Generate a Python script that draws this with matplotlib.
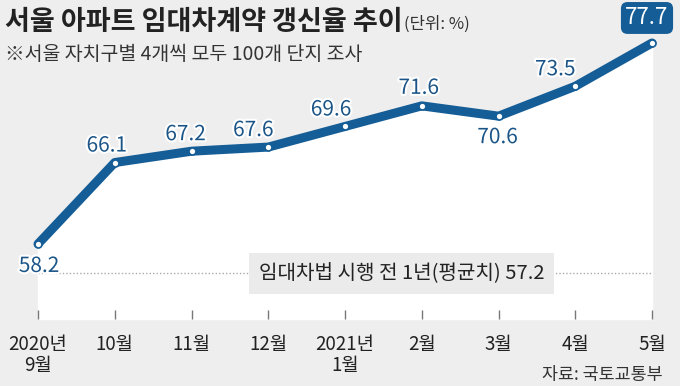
import matplotlib.pyplot as plt
import matplotlib.patheffects as pe
from matplotlib.transforms import offset_copy

plt.rcParams['font.family'] = ['Noto Sans CJK KR', 'DejaVu Sans']

months = ["2020년\n9월", "10월", "11월", "12월", "2021년\n1월", "2월", "3월", "4월", "5월"]
rates = [58.2, 66.1, 67.2, 67.6, 69.6, 71.6, 70.6, 73.5, 77.7]
avg_before = 57.2

title = "서울 아파트 임대차계약 갱신율 추이"
unit = "(단위: %)"
note = "※서울 자치구별 4개씩 모두 100개 단지 조사"
avg_text = "임대차법 시행 전 1년(평균치)"
source = "자료: 국토교통부"

BLUE = "#155d96"
BG = "#eeeeee"

def main():
    fig = plt.figure(figsize=(6.8, 3.86), dpi=100, facecolor=BG)
    ax = fig.add_axes([38 / 680, 67 / 386, 614 / 680, 319 / 386])
    ax.set_facecolor(BG)

    x = list(range(len(rates)))
    ax.set_xlim(0, len(rates) - 1)
    ax.set_ylim(50.92, 81.87)

    # white area under the line
    ax.fill_between(x, rates, 50.92, color="white", zorder=1, clip_on=False)

    # reference line sits lower than its value in the original graphic
    trans = offset_copy(ax.get_yaxis_transform(), fig=fig, y=-19, units="dots")
    ax.plot([0, 1], [avg_before, avg_before], transform=trans, color="#aaaaaa", lw=1,
            ls=(0, (1, 1.5)), zorder=2)
    ax.text(0.592, avg_before, f"{avg_text} {avg_before}", transform=trans,
            ha="center", va="center", fontsize=14.5, color="#222222", zorder=3,
            bbox=dict(boxstyle="square,pad=0.5", fc="#ebebeb", ec="none"))

    ax.plot(x, rates, color=BLUE, lw=6.5, solid_capstyle="round", solid_joinstyle="round",
            marker="o", ms=5, mfc="white", mec=BLUE, mew=1.2, zorder=4, clip_on=False)

    offsets = [(1, -22), (-8, 17), (-6, 17), (-15, 17), (-14, 17), (-3, 18), (-1, -21), (-20, 17)]
    for i, (v, off) in enumerate(zip(rates[:-1], offsets)):
        ax.annotate(f"{v}", (i, v), xytext=off, textcoords="offset pixels",
                    ha="center", va="center", fontsize=15, color="#1b5587", zorder=5,
                    path_effects=[pe.withStroke(linewidth=3, foreground="white")])
    ax.annotate(f"{rates[-1]}", (x[-1], rates[-1]), xytext=(-5, 25), textcoords="offset pixels",
                ha="center", va="center", fontsize=16, color="white", zorder=5,
                bbox=dict(boxstyle="round,pad=0.2,rounding_size=0.3", fc=BLUE, ec="none"))

    ax.set_xticks(x)
    ax.set_xticklabels(months, fontsize=13.5, color="#222222", linespacing=1.0, va="top")
    ax.tick_params(axis="x", direction="in", length=6.5, width=1, color="#777777", pad=11)
    ax.set_yticks([])
    for s in ax.spines.values():
        s.set_visible(False)

    fig.text(5 / 680, 1 - 22 / 386, title, fontsize=19.5, fontweight="bold", color="#222222",
             ha="left", va="center")
    fig.text(404 / 680, 1 - 24 / 386, unit, fontsize=12, color="#333333", ha="left", va="center")
    fig.text(5 / 680, 1 - 55 / 386, note, fontsize=14, color="#333333", ha="left", va="center")
    fig.text(663 / 680, 1 - 375 / 386, source, fontsize=12.5, color="#333333", ha="right", va="center")

    fig.savefig("out.png", dpi=100, facecolor=BG)

if __name__ == "__main__":
    main()
